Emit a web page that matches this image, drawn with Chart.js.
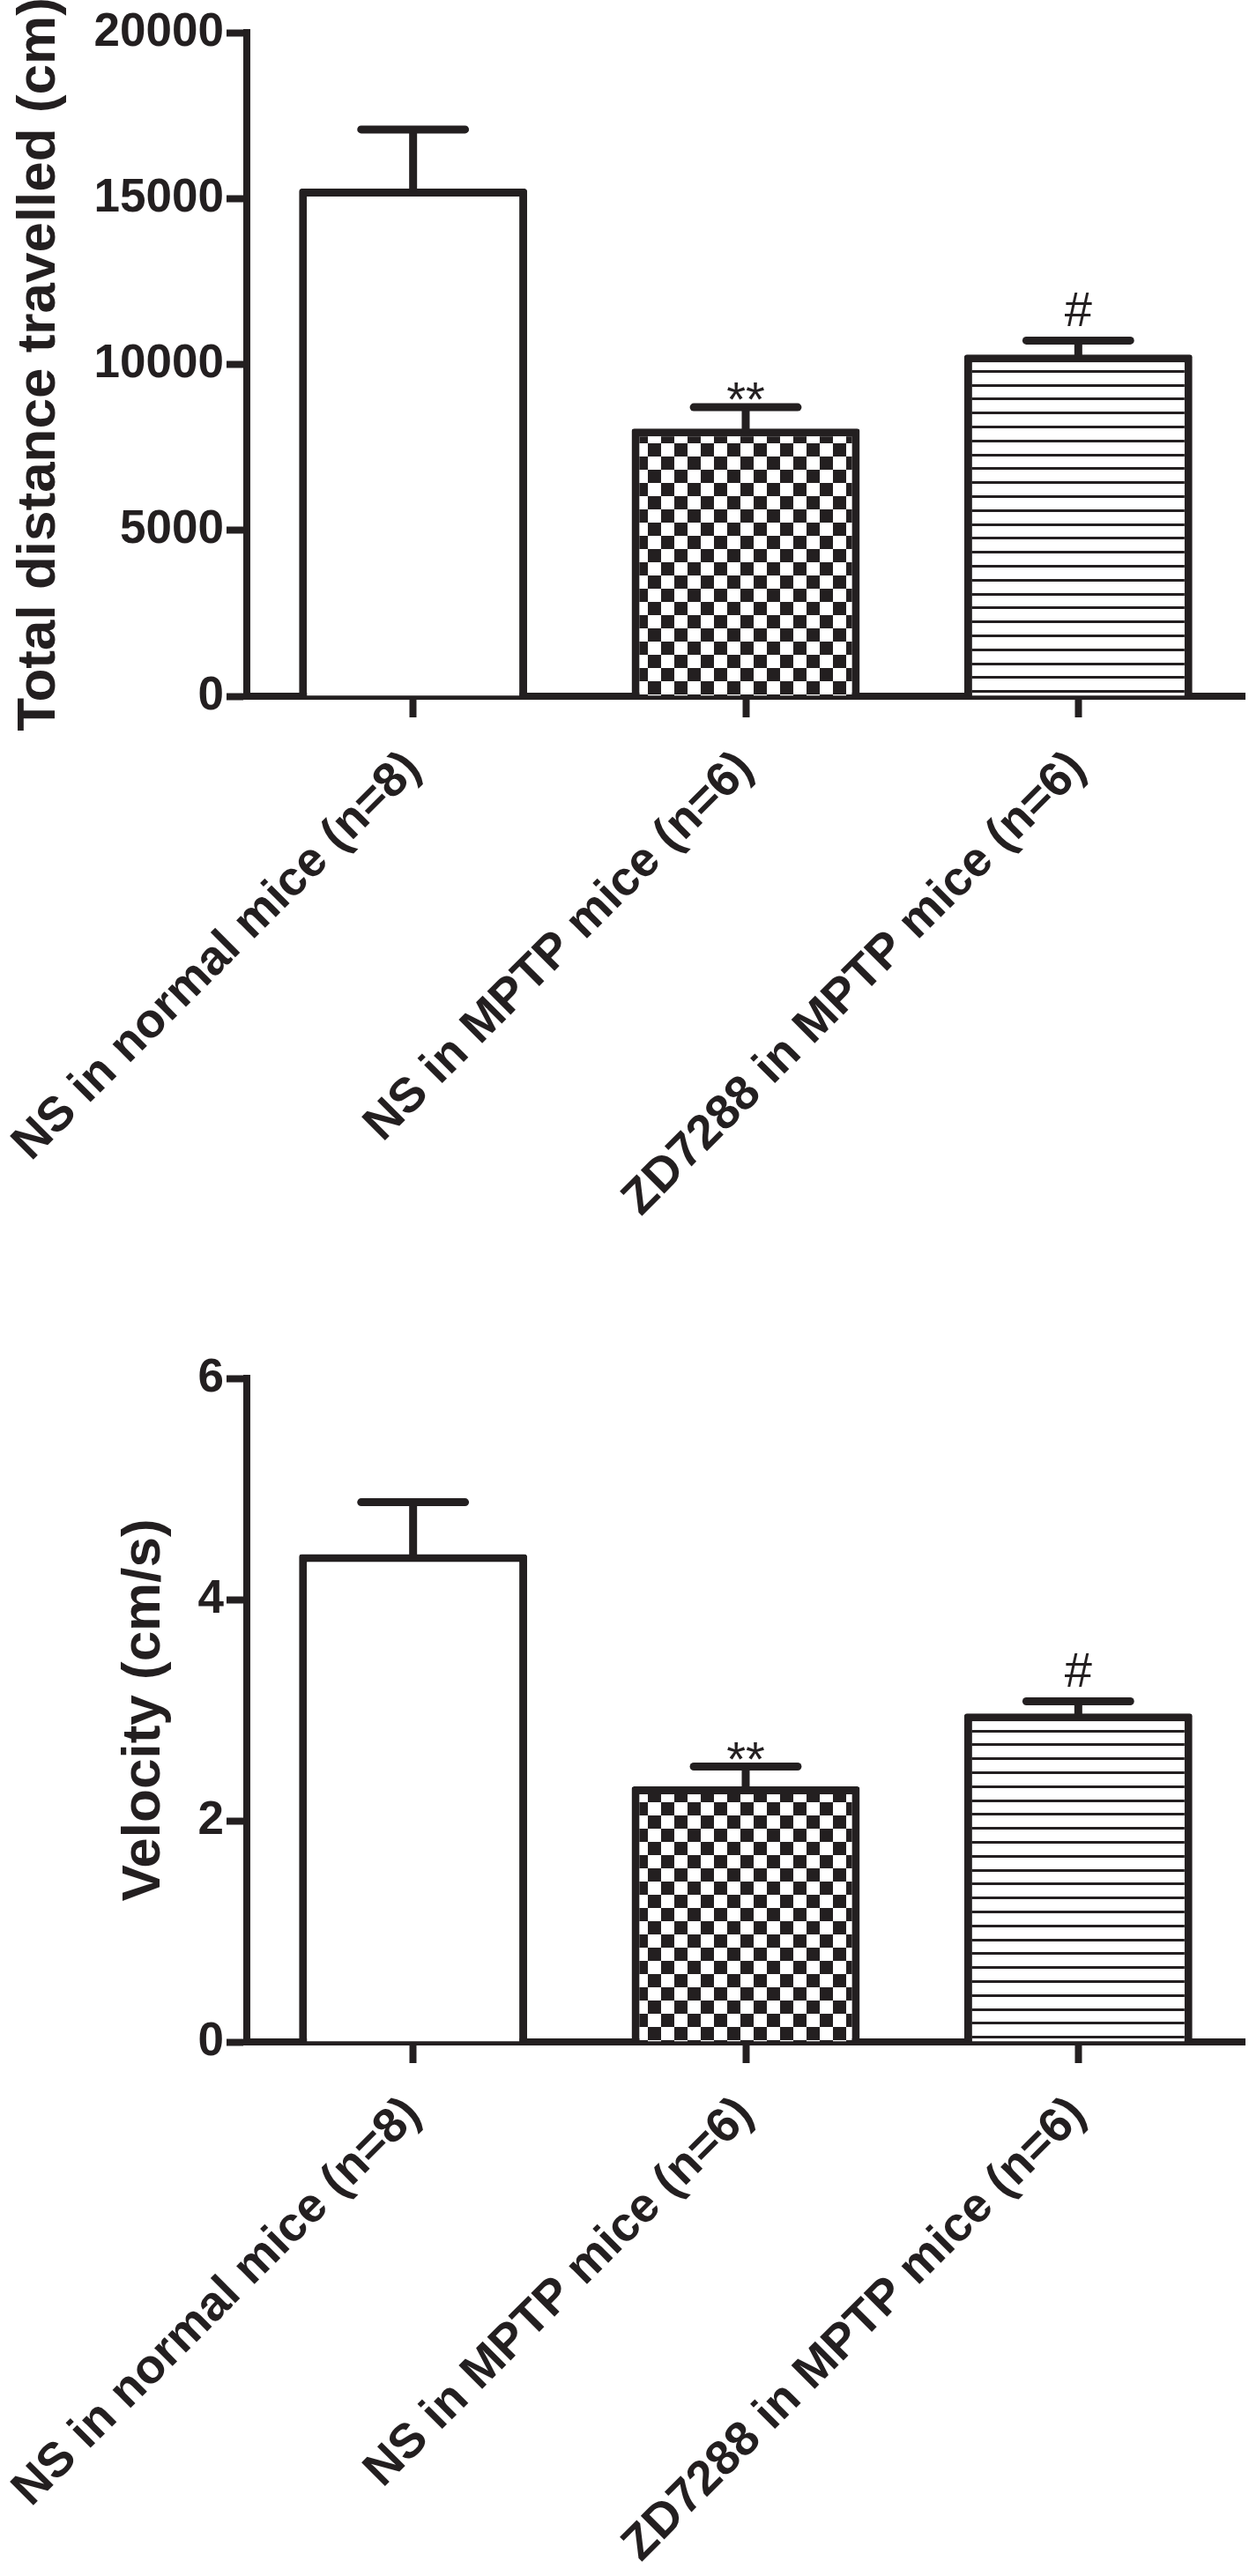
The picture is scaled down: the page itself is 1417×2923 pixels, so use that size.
<!DOCTYPE html>
<html><head><meta charset="utf-8">
<script src="https://cdn.jsdelivr.net/npm/chart.js@4.4.1/dist/chart.umd.min.js"></script>
<style>
html,body{margin:0;padding:0;background:#fff;}
#wrap{position:relative;width:1417px;height:2923px;background:#fff;}
canvas{position:absolute;left:0;}
</style></head><body>
<div id="wrap">
<canvas id="c1" width="1417" height="1396" style="top:0;width:1417px;height:1396px"></canvas>
<canvas id="c2" width="1417" height="1396" style="top:1527px;width:1417px;height:1396px"></canvas>
</div>
<script>
// ---- data ----
const categories = ['NS in normal mice (n=8)', 'NS in MPTP mice (n=6)', 'ZD7288 in MPTP mice (n=6)'];
const distanceMeans = [15300, 8070, 10300];
const distanceSEM = [1780, 640, 420];
const distanceTicks = [0, 5000, 10000, 15000, 20000];
const velocityMeans = [4.41, 2.31, 2.97];
const velocitySEM = [0.47, 0.18, 0.11];
const velocityTicks = [0, 2, 4, 6];
const significance = ['', '**', '#'];
const distanceTitle = 'Total distance travelled (cm)';
const velocityTitle = 'Velocity (cm/s)';

// ---- styling ----
const INK = '#231f20';
const FONT = "'Liberation Sans', Arial, Helvetica, sans-serif";

function checkerPattern(ctx) {
  const p = document.createElement('canvas'); p.width = 30; p.height = 30;
  const g = p.getContext('2d');
  g.fillStyle = '#fff'; g.fillRect(0, 0, 30, 30);
  g.fillStyle = INK; g.fillRect(0, 0, 15, 15); g.fillRect(15, 15, 15, 15);
  const pat = ctx.createPattern(p, 'repeat');
  pat.setTransform(new DOMMatrix().translate(0, 8));
  return pat;
}
function stripePattern(ctx) {
  const p = document.createElement('canvas'); p.width = 8; p.height = 79;
  const g = p.getContext('2d');
  g.fillStyle = '#fff'; g.fillRect(0, 0, 8, 79);
  g.fillStyle = INK;
  for (let k = 0; k < 5; k++) g.fillRect(0, Math.round(k * 15.8), 8, 3);
  const pat = ctx.createPattern(p, 'repeat');
  pat.setTransform(new DOMMatrix().translate(0, 9));
  return pat;
}

const errorBarPlugin = {
  id: 'errbars',
  afterDatasetsDraw(chart, args, opts) {
    const ctx = chart.ctx;
    const y = chart.scales.y;
    const meta = chart.getDatasetMeta(0);
    const means = chart.data.datasets[0].data;
    const errs = opts.errors;
    ctx.save();
    ctx.strokeStyle = INK;
    ctx.lineWidth = 9;
    meta.data.forEach((bar, i) => {
      const top = y.getPixelForValue(means[i] + errs[i]);
      const base = y.getPixelForValue(means[i]);
      const half = bar.width * 0.245;
      ctx.lineCap = 'butt';
      ctx.beginPath();
      ctx.moveTo(bar.x, base + 4); ctx.lineTo(bar.x, top);
      ctx.stroke();
      ctx.lineCap = 'round';
      ctx.beginPath();
      ctx.moveTo(bar.x - half + 4.5, top); ctx.lineTo(bar.x + half - 4.5, top);
      ctx.stroke();
      const mark = opts.marks[i];
      if (mark) {
        ctx.fillStyle = INK;
        ctx.font = '56px ' + FONT;
        ctx.textAlign = 'center';
        ctx.textBaseline = 'alphabetic';
        ctx.fillText(mark, bar.x, top + (mark === '#' ? -16 : 10));
      }
    });
    ctx.restore();
  }
};

function makeChart(id, means, errs, tickVals, title, titlePad) {
  const canvas = document.getElementById(id);
  const ctx = canvas.getContext('2d');
  return new Chart(ctx, {
    type: 'bar',
    data: {
      labels: categories,
      datasets: [{
        data: means,
        backgroundColor: ['#ffffff', checkerPattern(ctx), stripePattern(ctx)],
        borderColor: INK,
        borderWidth: 9,
        borderSkipped: 'start',
        borderRadius: {topLeft: 3, topRight: 3},
        categoryPercentage: 1,
        barPercentage: 0.686
      }]
    },
    options: {
      responsive: false,
      animation: false,
      devicePixelRatio: 1,
      layout: {padding: {top: 37, right: 5, left: 0, bottom: 0}},
      plugins: {
        legend: {display: false},
        tooltip: {enabled: false},
        errbars: {errors: errs, marks: significance}
      },
      scales: {
        x: {
          z: 1,
          offset: true,
          grid: {display: true, drawOnChartArea: false, drawTicks: true, tickLength: 24, tickWidth: 8, tickColor: INK, offset: false},
          border: {display: true, color: INK, width: 8},
          ticks: {color: INK, font: {family: FONT, size: 55, weight: 'bold'}, maxRotation: 45, minRotation: 45, autoSkip: false, padding: 26},
          afterFit(s) { s.height = 606; s.paddingLeft = 0; s.paddingRight = 0; }
        },
        y: {
          min: tickVals[0],
          max: tickVals[tickVals.length - 1],
          afterBuildTicks(s) { s.ticks = tickVals.map(v => ({value: v})); },
          grid: {display: true, drawOnChartArea: false, drawTicks: true, tickLength: 23, tickWidth: 8, tickColor: INK},
          border: {display: true, color: INK, width: 8},
          ticks: {color: INK, font: {family: FONT, size: 53, weight: 'bold'}, padding: 3, callback: v => String(v)},
          title: {display: true, text: title, color: INK, font: {family: FONT, size: 62, weight: 'bold'}, padding: {top: titlePad, bottom: 0}},
          afterFit(s) { s.width = 280; s.paddingTop = 0; s.paddingBottom = 0; }
        }
      }
    },
    plugins: [errorBarPlugin]
  });
}

makeChart('c1', distanceMeans, distanceSEM, distanceTicks, distanceTitle, 8);
makeChart('c2', velocityMeans, velocitySEM, velocityTicks, velocityTitle, 127);
</script>
</body></html>
